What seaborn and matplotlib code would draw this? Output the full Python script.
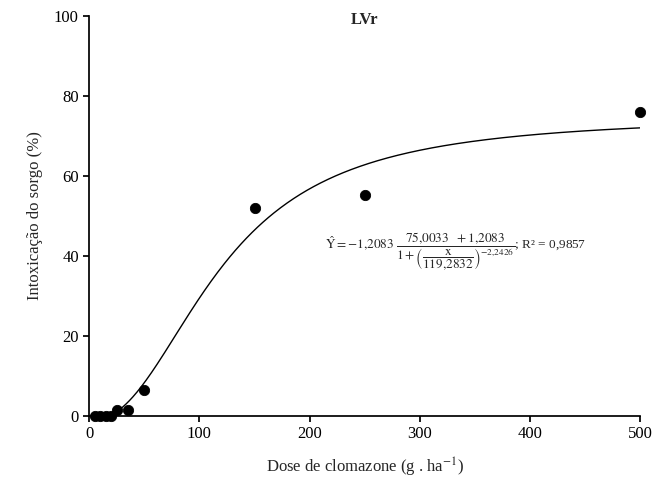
import numpy as np
import pandas as pd
import matplotlib
matplotlib.use("Agg")
import matplotlib.pyplot as plt
import seaborn as sns

dose = [5, 10, 15, 20, 25, 35, 50, 150, 250, 500]
intox = [0, 0, 0, 0, 1.5, 1.5, 6.5, 52, 55.3, 76]

a, b, c, e = -1.2083, 75.0033, 119.2832, -2.2426

sns.set_theme(style="ticks")
plt.rcParams['font.family'] = ['Liberation Serif', 'DejaVu Serif']
plt.rcParams['mathtext.fontset'] = 'stix'

fig, ax = plt.subplots(figsize=(6.71, 4.92), dpi=100)
df = pd.DataFrame({'dose': dose, 'intox': intox})
xs = np.linspace(0.5, 500, 500)
ys = a + (b - a) / (1 + (xs / c) ** e)
ax.plot(xs, ys, color='black', lw=1)
sns.scatterplot(data=df, x='dose', y='intox', color='black', s=55, edgecolor='black', ax=ax, zorder=3, clip_on=False)

ax.set_xlim(0, 500)
ax.set_ylim(0, 100)
ax.set_xticks(range(0, 501, 100))
ax.set_yticks(range(0, 101, 20))
ax.tick_params(labelsize=12, direction='out', length=4, color='black', labelcolor='black')
for s in ['left', 'bottom']:
    ax.spines[s].set_color('black')
sns.despine(ax=ax)
ax.set_xlabel(r'Dose de clomazone (g . ha$^{-1}$)', fontsize=12, labelpad=10)
ax.set_ylabel('Intoxicação do sorgo (%)', fontsize=12, labelpad=8)
ax.text(250, 99, 'LVr', ha='center', va='center', fontsize=12, fontweight='bold')
eq = (r'$\hat{\mathrm{Y}} = -1{,}2083\ \dfrac{75{,}0033\ \ +1{,}2083}'
      r'{1+\left(\dfrac{\mathrm{x}}{119{,}2832}\right)^{-2{,}2426}}$; R² = 0,9857')
ax.text(332, 41, eq, ha='center', va='center', fontsize=9.5)

fig.subplots_adjust(left=0.133, right=0.954, top=0.967, bottom=0.155)
fig.savefig('out.png', dpi=100)
